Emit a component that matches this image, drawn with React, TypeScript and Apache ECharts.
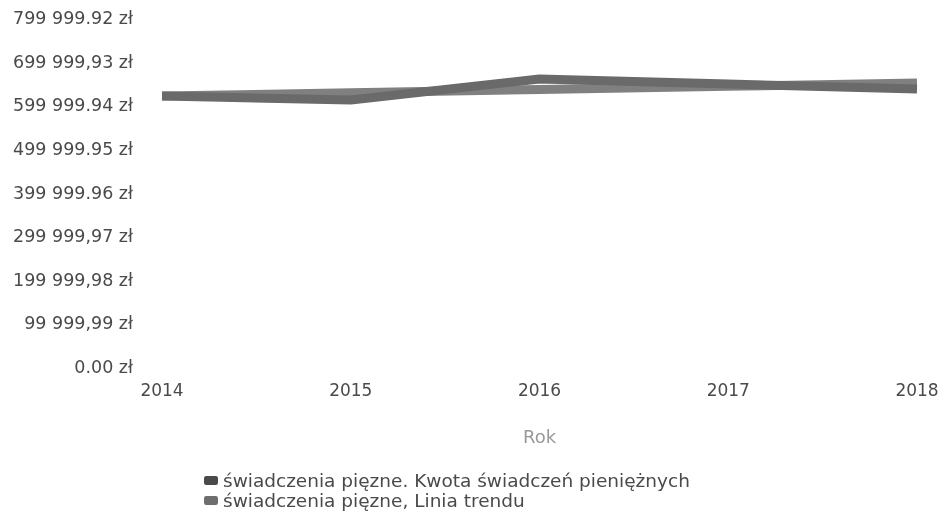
import React, { useEffect, useRef } from "react";
import * as echarts from "echarts";

const years = ["2014", "2015", "2016", "2017", "2018"];
const amounts = [621200, 612000, 660200, 648700, 637200];
const trend = [621200, 628600, 636100, 643500, 651000];
const yTickLabels = [
  "0.00 zł",
  "99 999,99 zł",
  "199 999,98 zł",
  "299 999,97 zł",
  "399 999.96 zł",
  "499 999.95 zł",
  "599 999.94 zł",
  "699 999,93 zł",
  "799 999.92 zł",
];
const seriesNames = [
  "świadczenia pięzne. Kwota świadczeń pieniężnych",
  "świadczenia pięzne, Linia trendu",
];
const yStep = 99999.99;
const yMax = 799999.92;

export default function App() {
  const ref = useRef<HTMLDivElement>(null);
  useEffect(() => {
    if (!ref.current) return;
    const chart = echarts.init(ref.current, null, { renderer: "svg" });
    const font = "DejaVu Sans";
    chart.setOption({
      animation: false,
      grid: { left: 162, right: 28, top: 18, bottom: 151 },
      legend: {
        orient: "vertical",
        left: 204,
        top: 471,
        height: 45,
        padding: 0,
        itemGap: 1,
        itemWidth: 14,
        itemHeight: 9,
        icon: "roundRect",
        textStyle: {
          fontFamily: font,
          fontSize: 18.5,
          lineHeight: 19,
          color: "#4a4a4a",
        },
        data: [
          { name: seriesNames[0], itemStyle: { color: "#4a4a4a" } },
          { name: seriesNames[1], itemStyle: { color: "#6e6e6e" } },
        ],
      },
      xAxis: {
        type: "category",
        data: years,
        boundaryGap: false,
        axisLine: { show: false },
        axisTick: { show: false },
        splitLine: { show: false },
        axisLabel: { margin: 14, fontFamily: font, fontSize: 17, color: "#4a4a4a" },
        name: "Rok",
        nameLocation: "middle",
        nameGap: 60,
        nameTextStyle: { fontFamily: font, fontSize: 18, color: "#999" },
      },
      yAxis: {
        type: "value",
        min: 0,
        max: yMax,
        interval: yStep,
        axisLine: { show: false },
        axisTick: { show: false },
        splitLine: { show: false },
        axisLabel: {
          margin: 29,
          fontFamily: font,
          fontSize: 17.5,
          color: "#4a4a4a",
          formatter: (v: number) => yTickLabels[Math.round(v / yStep)] ?? "",
        },
      },
      series: [
        {
          name: seriesNames[1],
          type: "line",
          data: trend,
          showSymbol: false,
          lineStyle: { width: 9, color: "#808080" },
          itemStyle: { color: "#6e6e6e" },
        },
        {
          name: seriesNames[0],
          type: "line",
          data: amounts,
          showSymbol: false,
          lineStyle: { width: 9, color: "#6a6a6a" },
          itemStyle: { color: "#4a4a4a" },
        },
      ],
    });
    return () => chart.dispose();
  }, []);
  return (
    <div
      ref={ref}
      style={{ position: "fixed", left: 0, top: 0, width: 945, height: 518 }}
    />
  );
}
